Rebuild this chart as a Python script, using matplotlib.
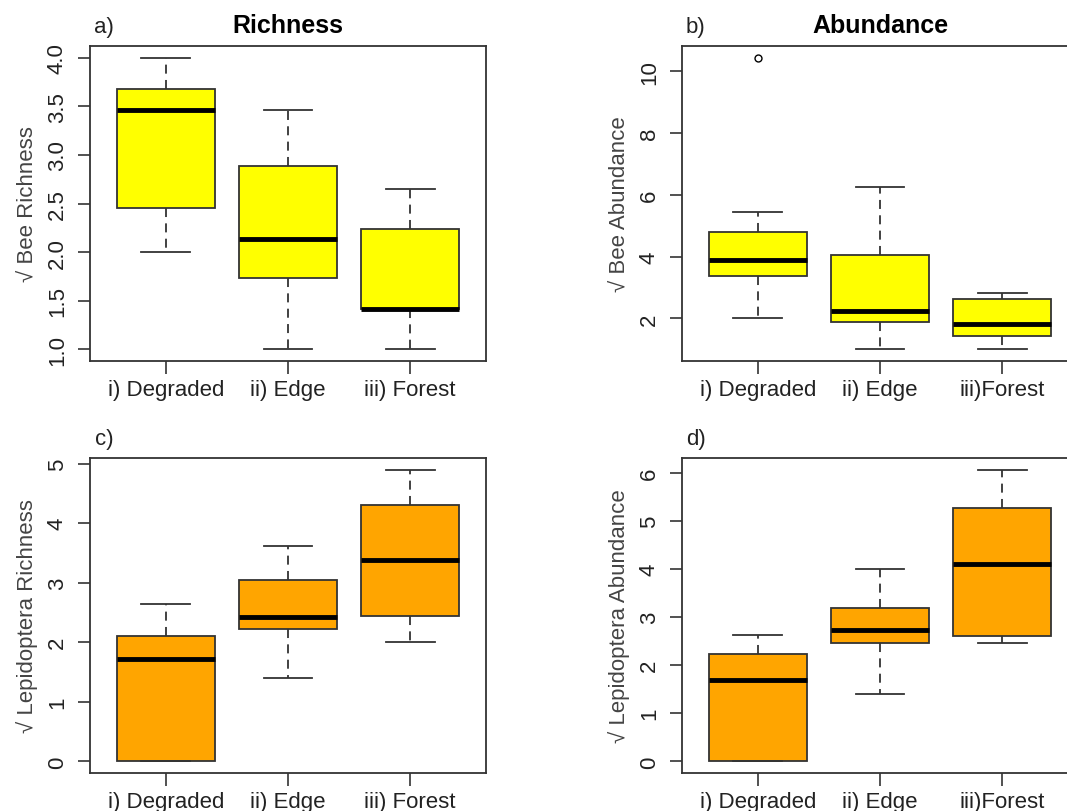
import matplotlib
matplotlib.use("Agg")
import matplotlib.pyplot as plt

plt.rcParams['font.family'] = ['Liberation Sans', 'DejaVu Sans']

# ---- data: (whisker low, Q1, median, Q3, whisker high) per group ----
labels_ac = ["i) Degraded", "ii) Edge", "iii) Forest"]
labels_bd = ["i) Degraded", "ii) Edge", "iii)Forest"]

bee_rich_lo  = [2.00, 1.00, 1.00]
bee_rich_q1  = [2.45, 1.73, 1.41]
bee_rich_med = [3.46, 2.13, 1.42]
bee_rich_q3  = [3.68, 2.89, 2.24]
bee_rich_hi  = [4.00, 3.46, 2.65]
bee_rich_out = [[], [], []]

bee_abun_lo  = [2.00, 1.00, 1.00]
bee_abun_q1  = [3.38, 1.88, 1.42]
bee_abun_med = [3.88, 2.23, 1.83]
bee_abun_q3  = [4.79, 4.04, 2.62]
bee_abun_hi  = [5.46, 6.27, 2.81]
bee_abun_out = [[10.44], [], []]

lep_rich_lo  = [0.00, 1.40, 2.00]
lep_rich_q1  = [0.00, 2.23, 2.44]
lep_rich_med = [1.72, 2.43, 3.38]
lep_rich_q3  = [2.11, 3.05, 4.30]
lep_rich_hi  = [2.65, 3.61, 4.90]
lep_rich_out = [[], [], []]

lep_abun_lo  = [0.00, 1.39, 2.45]
lep_abun_q1  = [0.00, 2.45, 2.61]
lep_abun_med = [1.70, 2.73, 4.10]
lep_abun_q3  = [2.22, 3.18, 5.26]
lep_abun_hi  = [2.62, 3.99, 6.06]
lep_abun_out = [[], [], []]

yticks_a = [1.0, 1.5, 2.0, 2.5, 3.0, 3.5, 4.0]
yticks_b = [2, 4, 6, 8, 10]
yticks_c = [0, 1, 2, 3, 4, 5]
yticks_d = [0, 1, 2, 3, 4, 5, 6]

W, H = 1067, 812
fig = plt.figure(figsize=(W / 100, H / 100), dpi=100)

def frac(l, t, r, b):
    return [l / W, 1 - b / H, (r - l) / W, (b - t) / H]

EDGE = '#333333'
FS = 16

def panel(rect, lo, q1, med, q3, hi, out, color, labels, yticks, ytickfmt,
          ylabel, letter, title=None):
    ax = fig.add_axes(rect)
    stats = []
    for i in range(len(lo)):
        stats.append(dict(whislo=lo[i], q1=q1[i], med=med[i], q3=q3[i],
                          whishi=hi[i], fliers=out[i]))
    ax.bxp(stats, positions=[1, 2, 3], widths=0.8, patch_artist=True,
           showfliers=True,
           boxprops=dict(facecolor=color, edgecolor=EDGE, linewidth=1.3),
           medianprops=dict(color='black', linewidth=3.5, solid_capstyle='butt'),
           whiskerprops=dict(color=EDGE, linewidth=1.3, linestyle=(0, (5, 3.5))),
           capprops=dict(color=EDGE, linewidth=1.3),
           capwidths=0.4,
           flierprops=dict(marker='o', markersize=5, markerfacecolor='none',
                           markeredgecolor='black', markeredgewidth=1.0))
    allv = lo + hi + [v for o in out for v in o]
    mn, mx = min(allv), max(allv)
    pad = 0.04 * (mx - mn)
    ax.set_ylim(mn - pad, mx + pad)
    ax.set_xlim(0.38, 3.62)
    ax.set_xticks([1, 2, 3])
    ax.set_xticklabels(labels, fontsize=FS, color='#222222')
    ax.set_yticks(yticks)
    ax.set_yticklabels([ytickfmt.format(v) for v in yticks], fontsize=FS,
                       rotation=90, va='center', color='#222222')
    ax.tick_params(axis='both', direction='out', length=9, width=1.2,
                   color=EDGE)
    ax.tick_params(axis='x', pad=4)
    ax.tick_params(axis='y', pad=7)
    for s in ax.spines.values():
        s.set_color(EDGE)
        s.set_linewidth(1.3)
    ax.set_ylabel(ylabel, fontsize=FS, color='#444444', labelpad=6)
    ax.text(0.035, 1.027, letter, transform=ax.transAxes, fontsize=FS,
            ha='center', va='bottom', color='#222222')
    if title:
        ax.text(0.5, 1.027, title, transform=ax.transAxes, fontsize=18,
                fontweight='bold', ha='center', va='bottom')
    return ax

panel(frac(90, 47, 486, 362), bee_rich_lo, bee_rich_q1, bee_rich_med,
      bee_rich_q3, bee_rich_hi, bee_rich_out, '#FFFF00', labels_ac,
      yticks_a, '{:.1f}', '√ Bee Richness', 'a)', 'Richness')
panel(frac(682, 47, 1078, 362), bee_abun_lo, bee_abun_q1, bee_abun_med,
      bee_abun_q3, bee_abun_hi, bee_abun_out, '#FFFF00', labels_bd,
      yticks_b, '{:d}', '√ Bee Abundance', 'b)', 'Abundance')
panel(frac(90, 459, 486, 774), lep_rich_lo, lep_rich_q1, lep_rich_med,
      lep_rich_q3, lep_rich_hi, lep_rich_out, '#FFA500', labels_ac,
      yticks_c, '{:d}', '√ Lepidoptera Richness', 'c)')
panel(frac(682, 459, 1078, 774), lep_abun_lo, lep_abun_q1, lep_abun_med,
      lep_abun_q3, lep_abun_hi, lep_abun_out, '#FFA500', labels_bd,
      yticks_d, '{:d}', '√ Lepidoptera Abundance', 'd)')

fig.savefig('out.png', dpi=100)
